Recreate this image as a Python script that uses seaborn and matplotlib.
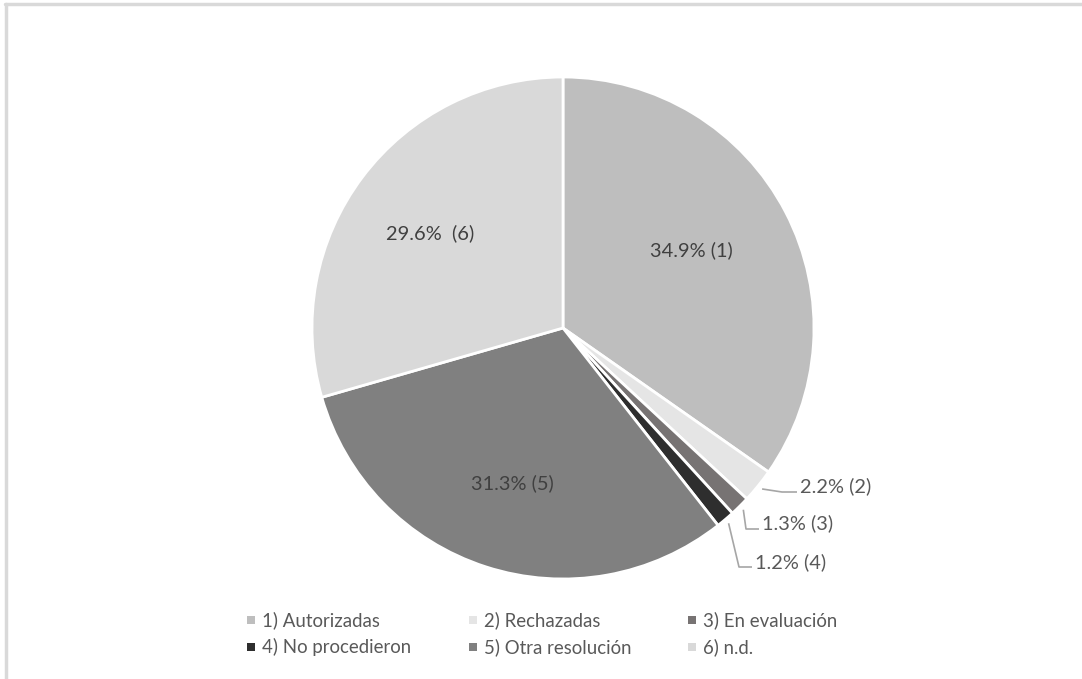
import numpy as np
import matplotlib
matplotlib.use("Agg")
import matplotlib.pyplot as plt
import seaborn as sns

sns.set_theme(style="white")
plt.rcParams['font.family'] = ['Lato', 'DejaVu Sans']

# ---- data ----
categories = ["1) Autorizadas", "2) Rechazadas", "3) En evaluación",
              "4) No procedieron", "5) Otra resolución", "6) n.d."]
values = [34.9, 2.2, 1.3, 1.2, 31.3, 29.6]
label_texts = ["34.9% (1)", "2.2% (2)", "1.3% (3)", "1.2% (4)", "31.3% (5)", "29.6%  (6)"]
colors = ["#BEBEBE", "#E5E5E5", "#777373", "#2E2E2E", "#808080", "#D9D9D9"]

W, H = 1082, 679
fig = plt.figure(figsize=(W / 100, H / 100), dpi=100)
ax = fig.add_axes([0, 0, 1, 1])

cx, cy, R = 563, H - 328, 251
wedges, _ = ax.pie(values, colors=colors, startangle=90, counterclock=False,
                   center=(cx, cy), radius=R,
                   wedgeprops=dict(edgecolor="white", linewidth=2))
ax.set_xlim(0, W)
ax.set_ylim(0, H)
ax.set_aspect("auto")
ax.axis("off")

# size fonts so that text widths match the reference (px)
renderer = fig.canvas.get_renderer()
def fit_size(s, target_px, base=10):
    t = ax.text(0, 0, s, fontsize=base)
    w = t.get_window_extent(renderer).width
    t.remove()
    return base * target_px / w

fs = fit_size("34.9% (1)", 83)
fs_leg = fit_size("1) Autorizadas", 118)

inner_col = "#404040"
txt_col = "#595959"
# inside labels: centre positions in px (x, y from top)
inside = {0: (691, 250), 5: (430, 233), 4: (512, 483)}
for i, (x, y) in inside.items():
    ax.text(x, H - y, label_texts[i], ha="center", va="center",
            fontsize=fs, color=inner_col)

# outside labels with leader lines: elbow, line end, text start (px)
outside = {1: ((782, 492), (797, 492), (800, 486)),
           2: ((746, 529), (759, 529), (762, 523)),
           3: ((739, 567), (752, 567), (755, 562))}
for i, (elb, end, tp) in outside.items():
    w = wedges[i]
    mid = np.deg2rad((w.theta1 + w.theta2) / 2)
    sx, sy = cx + R * 1.02 * np.cos(mid), cy + R * 1.02 * np.sin(mid)
    ax.plot([sx, elb[0], end[0]], [sy, H - elb[1], H - end[1]],
            color="#A6A6A6", lw=1.2, solid_capstyle="butt")
    ax.text(tp[0], H - tp[1], label_texts[i], ha="left", va="center",
            fontsize=fs, color=txt_col)

# legend: row-wise, 3 columns x 2 rows
col_x = [251, 473, 692]
row_y = [620, 647]
for k, lab in enumerate(categories):
    x, y = col_x[k % 3], row_y[k // 3]
    ax.scatter([x], [H - y], marker="s", s=26, color=colors[k], linewidths=0)
    ax.text(x + 11, H - y, lab, ha="left", va="center", fontsize=fs_leg, color=txt_col)

# outer frame (top and left edges)
ax.plot([6, 6], [0, H - 4], color="#D9D9D9", lw=2.5, clip_on=False)
ax.plot([5, W], [H - 4, H - 4], color="#D9D9D9", lw=2.5, clip_on=False)

fig.savefig("out.png", dpi=100)
